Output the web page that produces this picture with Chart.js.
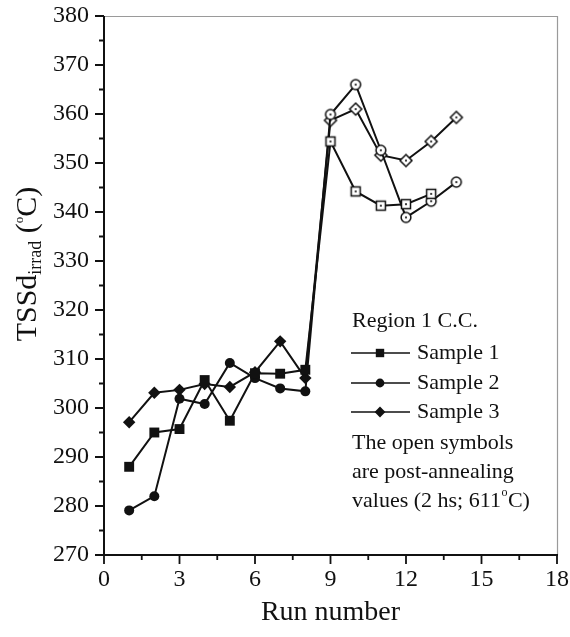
<!DOCTYPE html>
<html>
<head>
<meta charset="utf-8">
<script src="https://cdn.jsdelivr.net/npm/chart.js@4.4.1/dist/chart.umd.min.js"></script>
<style>
  html, body { margin: 0; padding: 0; background: #fff; }
  #wrap { width: 570px; height: 637px; }
</style>
</head>
<body>
<div id="wrap"><canvas id="c" width="570" height="637"></canvas></div>
<script>
// ---------- data ----------
const runs = [1, 2, 3, 4, 5, 6, 7, 8, 9, 10, 11, 12, 13, 14];
const sample1 = [288.0, 295.0, 295.7, 305.7, 297.4, 307.1, 307.0, 307.8, 354.4, 344.2, 341.3, 341.6, 343.7];
const sample2 = [279.1, 282.0, 301.9, 300.8, 309.2, 306.1, 304.0, 303.4, 359.9, 366.0, 352.6, 338.9, 342.2, 346.1];
const sample3 = [297.1, 303.1, 303.7, 304.9, 304.3, 307.3, 313.6, 306.1, 358.7, 361.0, 351.6, 350.5, 354.4, 359.3];
const seriesNames = ['Sample 1', 'Sample 2', 'Sample 3'];
const annealStartRun = 9;           // runs from here on are post-annealing (open symbols)
const xTickValues = [0, 3, 6, 9, 12, 15, 18];
const yTickValues = [270, 280, 290, 300, 310, 320, 330, 340, 350, 360, 370, 380];
const legendTitle = 'Region 1 C.C.';
const noteLines = ['The open symbols', 'are post-annealing', 'values (2 hs; 611'];

// ---------- styling helpers ----------
const FONT = "'Liberation Serif', 'Times New Roman', serif";
const INK = '#111';

function makeOpen(shape) {
  const s = 18, c = document.createElement('canvas');
  c.width = s; c.height = s;
  const g = c.getContext('2d');
  const m = s / 2;
  g.strokeStyle = INK; g.fillStyle = '#fff'; g.lineWidth = 1.5;
  g.beginPath();
  if (shape === 'square') { g.rect(m - 4.5, m - 4.5, 9, 9); }
  else if (shape === 'circle') { g.arc(m, m, 4.9, 0, Math.PI * 2); }
  else { g.moveTo(m, m - 6); g.lineTo(m + 6, m); g.lineTo(m, m + 6); g.lineTo(m - 6, m); g.closePath(); }
  g.fill(); g.stroke();
  g.fillStyle = INK;
  g.beginPath(); g.arc(m, m, 1.1, 0, Math.PI * 2); g.fill();
  return c;
}
const openSquare = makeOpen('square');
const openCircle = makeOpen('circle');
const openDiamond = makeOpen('diamond');

const filledStyles = ['rect', 'circle', 'rectRot'];
const filledRadius = [7.0, 5.0, 6.2];
const openStyles = [openSquare, openCircle, openDiamond];

function toPoints(vals) { return vals.map((v, i) => ({ x: runs[i], y: v })); }

const datasets = [sample1, sample2, sample3].map((vals, k) => ({
  label: seriesNames[k],
  data: toPoints(vals),
  borderColor: INK,
  backgroundColor: INK,
  borderWidth: 2,
  tension: 0,
  pointBorderWidth: 0,
  pointBackgroundColor: INK,
  pointStyle: ctx => (ctx.raw && ctx.raw.x >= annealStartRun) ? openStyles[k] : filledStyles[k],
  pointRadius: filledRadius[k],
  pointHoverRadius: filledRadius[k]
}));

function drawFilledMarker(g, k, x, y) {
  g.save();
  g.fillStyle = INK;
  g.beginPath();
  if (k === 0) { g.rect(x - 4.2, y - 4.2, 8.4, 8.4); }
  else if (k === 1) { g.arc(x, y, 4.4, 0, Math.PI * 2); }
  else { g.moveTo(x, y - 5.4); g.lineTo(x + 5.4, y); g.lineTo(x, y + 5.4); g.lineTo(x - 5.4, y); g.closePath(); }
  g.fill();
  g.restore();
}

const decor = {
  id: 'decor',
  afterDraw(chart) {
    const g = chart.ctx;
    const a = chart.chartArea;
    const xs = chart.scales.x, ys = chart.scales.y;
    g.save();
    // frame: light top/right, strong left/bottom
    g.strokeStyle = '#9a9a9a'; g.lineWidth = 1.2;
    g.beginPath();
    g.moveTo(a.left, a.top + 0.5); g.lineTo(a.right + 0.5, a.top + 0.5); g.lineTo(a.right + 0.5, a.bottom);
    g.stroke();
    g.strokeStyle = INK; g.lineWidth = 2;
    g.beginPath();
    g.moveTo(a.left, a.top); g.lineTo(a.left, a.bottom); g.lineTo(a.right + 1, a.bottom);
    g.stroke();

    // ticks
    g.lineWidth = 1.8;
    g.beginPath();
    for (let i = 0; i < yTickValues.length; i++) {
      const v = yTickValues[i];
      const py = ys.getPixelForValue(v);
      g.moveTo(a.left - 9, py); g.lineTo(a.left, py);
      if (i < yTickValues.length - 1) {
        const pm = ys.getPixelForValue((v + yTickValues[i + 1]) / 2);
        g.moveTo(a.left - 5, pm); g.lineTo(a.left, pm);
      }
    }
    for (let i = 0; i < xTickValues.length; i++) {
      const v = xTickValues[i];
      const px = xs.getPixelForValue(v);
      g.moveTo(px, a.bottom); g.lineTo(px, a.bottom + 9);
      if (i < xTickValues.length - 1) {
        const pm = xs.getPixelForValue((v + xTickValues[i + 1]) / 2);
        g.moveTo(pm, a.bottom); g.lineTo(pm, a.bottom + 5);
      }
    }
    g.stroke();

    // x title
    g.fillStyle = INK;
    g.font = '28px ' + FONT;
    g.textAlign = 'center'; g.textBaseline = 'middle';
    g.fillText('Run number', (a.left + a.right) / 2, 613);

    // y title (rotated, with subscript & superscript)
    g.save();
    g.translate(36, 264);
    g.rotate(-Math.PI / 2);
    g.textAlign = 'left'; g.textBaseline = 'alphabetic';
    const parts = [
      { t: 'TSSd', f: '30px ', dy: 0 },
      { t: 'irrad', f: '18px ', dy: 5 },
      { t: ' (', f: '30px ', dy: 0 },
      { t: 'o', f: '13px ', dy: -13 },
      { t: 'C)', f: '30px ', dy: 0 }
    ];
    let total = 0;
    parts.forEach(p => { g.font = p.f + FONT; p.w = g.measureText(p.t).width; total += p.w; });
    let cx = -total / 2;
    parts.forEach(p => { g.font = p.f + FONT; g.fillText(p.t, cx, p.dy); cx += p.w; });
    g.restore();

    // legend block
    g.textAlign = 'left'; g.textBaseline = 'middle';
    g.font = '22px ' + FONT;
    g.fillText(legendTitle, 352, 321);
    const rowY = [353, 383, 412];
    for (let k = 0; k < 3; k++) {
      g.strokeStyle = INK; g.lineWidth = 1.6;
      g.beginPath(); g.moveTo(351, rowY[k]); g.lineTo(410, rowY[k]); g.stroke();
      drawFilledMarker(g, k, 380, rowY[k]);
      g.fillText(seriesNames[k], 417, rowY[k]);
    }
    const noteY = [443, 472, 501];
    for (let i = 0; i < noteLines.length; i++) {
      g.font = '22px ' + FONT;
      g.fillText(noteLines[i], 352, noteY[i]);
    }
    // degree superscript + C)
    g.font = '22px ' + FONT;
    let wx = 352 + g.measureText(noteLines[2]).width;
    g.font = '12px ' + FONT;
    g.fillText('o', wx + 0.5, noteY[2] - 8);
    wx += g.measureText('o').width + 1;
    g.font = '22px ' + FONT;
    g.fillText('C)', wx, noteY[2]);
    g.restore();
  }
};

new Chart(document.getElementById('c'), {
  type: 'line',
  data: { datasets },
  options: {
    responsive: false,
    animation: false,
    devicePixelRatio: 1,
    layout: { padding: { top: 16, right: 13, left: 0, bottom: 0 } },
    plugins: { legend: { display: false }, tooltip: { enabled: false } },
    scales: {
      x: {
        type: 'linear', min: 0, max: 18,
        afterBuildTicks: s => { s.ticks = xTickValues.map(v => ({ value: v })); },
        afterFit: s => { s.height = 82; s.paddingLeft = 0; s.paddingRight = 0; },
        grid: { display: false, drawTicks: false },
        border: { display: false },
        ticks: { color: INK, font: { family: FONT, size: 24 }, padding: 10, maxRotation: 0, autoSkip: false }
      },
      y: {
        type: 'linear', min: 270, max: 380,
        afterBuildTicks: s => { s.ticks = yTickValues.map(v => ({ value: v })); },
        afterFit: s => { s.width = 104; s.paddingTop = 0; s.paddingBottom = 0; },
        grid: { display: false, drawTicks: false },
        border: { display: false },
        ticks: { color: INK, font: { family: FONT, size: 24 }, padding: 15, autoSkip: false }
      }
    }
  },
  plugins: [decor]
});
</script>
</body>
</html>
